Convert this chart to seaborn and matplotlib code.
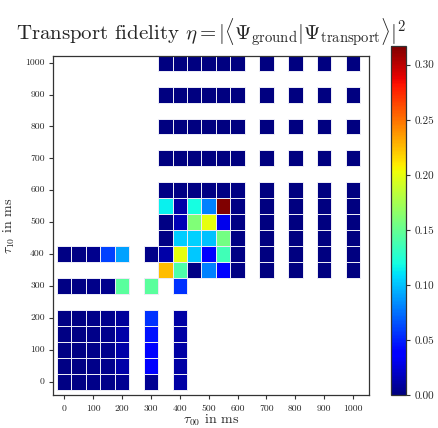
import numpy as np
import pandas as pd
import matplotlib
matplotlib.use("Agg")
import matplotlib.pyplot as plt
import seaborn as sns

# ---- data -------------------------------------------------------------
# grid of transport times (ms); first grid point is ~10 ms
tau00 = [10, 50, 100, 150, 200, 250, 300, 350, 400, 450, 500,
         550, 600, 650, 700, 750, 800, 850, 900, 950, 1000]
tau10 = list(tau00)
N = np.nan

# fidelity rows, indexed by tau10 (bottom row first), columns by tau00
row_0    = [0.002, 0.002, 0.003, 0.003, 0.006, N, 0.006, N, 0.010, N, N, N, N, N, N, N, N, N, N, N, N]
row_50   = [0.002, 0.002, 0.003, 0.004, 0.012, N, 0.035, N, 0.010, N, N, N, N, N, N, N, N, N, N, N, N]
row_100  = [0.002, 0.002, 0.003, 0.004, 0.012, N, 0.040, N, 0.010, N, N, N, N, N, N, N, N, N, N, N, N]
row_150  = [0.002, 0.002, 0.003, 0.004, 0.012, N, 0.045, N, 0.010, N, N, N, N, N, N, N, N, N, N, N, N]
row_200  = [0.002, 0.002, 0.003, 0.004, 0.008, N, 0.055, N, 0.010, N, N, N, N, N, N, N, N, N, N, N, N]
row_250  = [N] * 21
row_300  = [0.002, 0.002, 0.003, 0.004, 0.145, N, 0.145, N, 0.055, N, N, N, N, N, N, N, N, N, N, N, N]
row_350  = [N, N, N, N, N, N, N, 0.225, 0.140, 0.002, 0.080, 0.040, 0.002, N, 0.001, N, 0.001, N, 0.001, N, 0.001]
row_400  = [0.002, 0.002, 0.004, 0.060, 0.090, N, 0.003, 0.012, 0.200, 0.102, 0.035, 0.135, 0.002, N, 0.001, N, 0.001, N, 0.001, N, 0.001]
row_450  = [N, N, N, N, N, N, N, 0.002, 0.103, 0.105, 0.100, 0.155, 0.002, N, 0.001, N, 0.001, N, 0.001, N, 0.001]
row_500  = [N, N, N, N, N, N, N, 0.002, 0.015, 0.160, 0.200, 0.030, 0.002, N, 0.001, N, 0.001, N, 0.001, N, 0.001]
row_550  = [N, N, N, N, N, N, N, 0.115, 0.012, 0.120, 0.080, 0.317, 0.002, N, 0.001, N, 0.001, N, 0.001, N, 0.001]
row_600  = [N, N, N, N, N, N, N, 0.002, 0.002, 0.002, 0.002, 0.002, 0.002, N, 0.001, N, 0.001, N, 0.001, N, 0.001]
row_650  = [N] * 21
row_700  = [N, N, N, N, N, N, N, 0.001, 0.001, 0.001, 0.001, 0.001, 0.001, N, 0.001, N, 0.001, N, 0.001, N, 0.001]
row_750  = [N] * 21
row_800  = list(row_700)
row_850  = [N] * 21
row_900  = list(row_700)
row_950  = [N] * 21
row_1000 = list(row_700)

rows = [row_0, row_50, row_100, row_150, row_200, row_250, row_300, row_350,
        row_400, row_450, row_500, row_550, row_600, row_650, row_700, row_750,
        row_800, row_850, row_900, row_950, row_1000]

tick_values = [0, 100, 200, 300, 400, 500, 600, 700, 800, 900, 1000]
cbar_ticks = [0.00, 0.05, 0.10, 0.15, 0.20, 0.25, 0.30]
vmin, vmax = 0.0, 0.317

df = pd.DataFrame(rows, index=tau10, columns=tau00)

# ---- style ------------------------------------------------------------
sns.set_style("ticks")
plt.rcParams["font.family"] = "serif"
plt.rcParams["font.serif"] = ["cmr10", "DejaVu Serif"]
plt.rcParams["mathtext.fontset"] = "cm"
plt.rcParams["axes.formatter.use_mathtext"] = True

fig = plt.figure(figsize=(4.39, 4.28), dpi=100)
ax = fig.add_axes([53 / 439, 33 / 428, 316 / 439, 339 / 428])
cax = fig.add_axes([391 / 439, 33 / 428, 15 / 439, 349 / 428])

sns.heatmap(df, ax=ax, cbar_ax=cax, cmap="jet", vmin=vmin, vmax=vmax,
            linewidths=0.6, linecolor="#e6e6f2", square=False)

# only draw the thin cell borders around cells that hold data
mesh = ax.collections[0]
valid = ~np.isnan(df.values.ravel())
edge = np.zeros((valid.size, 4))
edge[valid] = [0.92, 0.92, 0.96, 1.0]
mesh.set_edgecolor(edge)

# map tau (ms) -> heatmap cell coordinate (cells are 50 ms wide)
def pos(t):
    return t / 50.0 + 0.5

ax.set_xlim(pos(-39), pos(1055))
ax.set_ylim(pos(-42), pos(1021))
ax.set_xticks([pos(t) for t in tick_values])
ax.set_xticklabels([str(t) for t in tick_values], rotation=0, fontsize=7)
ax.set_yticks([pos(t) for t in tick_values])
ax.set_yticklabels([str(t) for t in tick_values], rotation=0, fontsize=7)
ax.tick_params(axis="both", direction="out", length=3, width=0.8,
               color="#333333", bottom=True, left=True, top=False, right=False,
               pad=3)
ax.tick_params(axis="x", pad=4)
for s in ax.spines.values():
    s.set_visible(True)
    s.set_linewidth(0.9)
    s.set_color("#333333")

ax.set_xlabel(r"$\tau_{00}$ in ms", fontsize=10, labelpad=0)
ax.set_ylabel(r"$\tau_{10}$ in ms", fontsize=10, labelpad=6)
ax.set_title(r"Transport fidelity $\eta = |\langle\Psi_{\rm ground}|\Psi_{\rm transport}\rangle|^2$",
             fontsize=15, pad=11)

cb = mesh.colorbar
cb.set_ticks(cbar_ticks)
cb.set_ticklabels([f"{t:.2f}" for t in cbar_ticks])
cb.ax.tick_params(labelsize=8, direction="out", length=3, width=0.8, color="#333333")
cb.outline.set_visible(True)
cb.outline.set_linewidth(0.9)
cb.outline.set_edgecolor("#333333")

fig.savefig("out.png", dpi=100)
